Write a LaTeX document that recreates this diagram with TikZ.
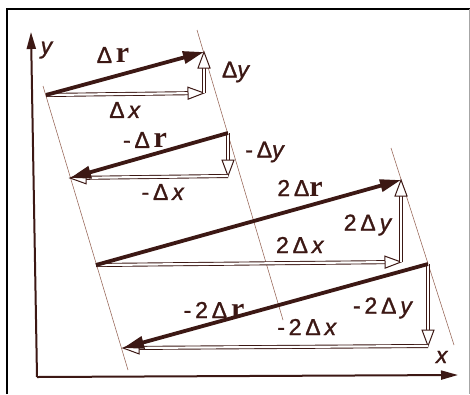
\documentclass[tikz,border=0pt]{standalone}
\usepackage{fontspec}
\setmainfont{Liberation Sans}[FakeBold=1.3]
\newfontfamily\rfont{Liberation Serif}
\usetikzlibrary{calc,arrows.meta}
\definecolor{ink}{RGB}{60,24,20}
\definecolor{guide}{RGB}{150,100,85}
\newcommand\vr{{\rfont\bfseries\fontsize{30}{30}\selectfont r}}
\newcommand\hollowarr[2]{%
  \coordinate (hB) at ($(#2)!16pt!(#1)$);
  \draw[hshaft] (#1) -- (hB);
  \draw[hhead] (#2) -- ($(hB)!6pt!90:(#2)$) -- ($(hB)!6pt!-90:(#2)$) -- cycle;
}
\begin{document}
\begin{tikzpicture}[x=1pt,y=-1pt,
  hshaft/.style={draw=ink,line width=0.9pt,double=white,double distance=2.2pt},
  hhead/.style={draw=ink,fill=white,line width=1pt,line join=miter},
  thick vec/.style={draw=ink,line width=3.8pt,-{Triangle[length=21pt,width=12pt]}},
  guideline/.style={draw=guide,line width=0.55pt},
  axis/.style={draw=ink,line width=2pt,-{Triangle[length=17pt,width=9pt]}},
  lab/.style={text=ink,font=\fontsize{23}{23}\selectfont,inner sep=1pt}]
\useasboundingbox (0,0) rectangle (470,394);
\fill[white] (0,0) rectangle (470,394);
% frame
\draw[black,line width=1.2pt] (7,394) -- (7,9) -- (470,9);
\draw[gray!70,line width=0.8pt] (469,9) -- (469,394);
% axes
\coordinate (O) at (37,377);
\coordinate (ytip) at (31,32);
\coordinate (xtip) at (458,375);
\draw[axis] (O) -- (ytip);
\draw[axis] (O) -- (xtip);
\node[lab] (ylab) at (47,50) {\textit{y}};
\node[lab] (xlab) at (442,357) {\textit{x}};
% points
\coordinate (A1) at (46,95);  \coordinate (B1) at (204,52);  \coordinate (C1) at (204,93);
\coordinate (A2) at (228,133); \coordinate (B2) at (70,178);  \coordinate (C2) at (228,176);
\coordinate (A3) at (96,265);  \coordinate (B3) at (401,180); \coordinate (C3) at (401,262);
\coordinate (A4) at (428,264); \coordinate (B4) at (123,348); \coordinate (C4) at (428,346);
% guide lines
\coordinate (G1a) at (43,86);  \coordinate (G1b) at (128,370);
\coordinate (G2a) at (197,30); \coordinate (G2b) at (283,320);
\coordinate (G3a) at (391,148);\coordinate (G3b) at (454,345);
\draw[guideline] (G1a) -- (G1b);
\draw[guideline] (G2a) -- (G2b);
\draw[guideline] (G3a) -- (G3b);
% hollow component arrows
\hollowarr{A1}{C1}
\hollowarr{C1}{B1}
\hollowarr{A2}{C2}
\hollowarr{C2}{B2}
\hollowarr{A3}{C3}
\hollowarr{C3}{B3}
\hollowarr{A4}{C4}
\hollowarr{C4}{B4}
% thick displacement vectors
\draw[thick vec] (A1) -- (B1);
\draw[thick vec] (A2) -- (B2);
\draw[thick vec] (A3) -- (B3);
\draw[thick vec] (A4) -- (B4);
% labels
\node[lab] (l1) at (113,55) {Δ\,\vr};
\node[lab] (l2) at (125,110) {Δ\,\textit{x}};
\node[lab] (l3) at (236,72) {Δ\textit{y}};
\node[lab] (l4) at (145,140) {-\,Δ\,\vr};
\node[lab] (l5) at (265,152) {-\,Δ\textit{y}};
\node[lab] (l6) at (163,192) {-\,Δ\,\textit{x}};
\node[lab] (l7) at (300,188) {2\,Δ\vr};
\node[lab] (l8) at (368,225) {2\,Δ\,\textit{y}};
\node[lab] (l9) at (300,245) {2\,Δ\,\textit{x}};
\node[lab] (l10) at (214,310) {-\,2\,Δ\,\vr};
\node[lab] (l11) at (383,308) {-\,2\,Δ\,\textit{y}};
\node[lab] (l12) at (307,327) {-\,2\,Δ\,\textit{x}};
\end{tikzpicture}
\end{document}
